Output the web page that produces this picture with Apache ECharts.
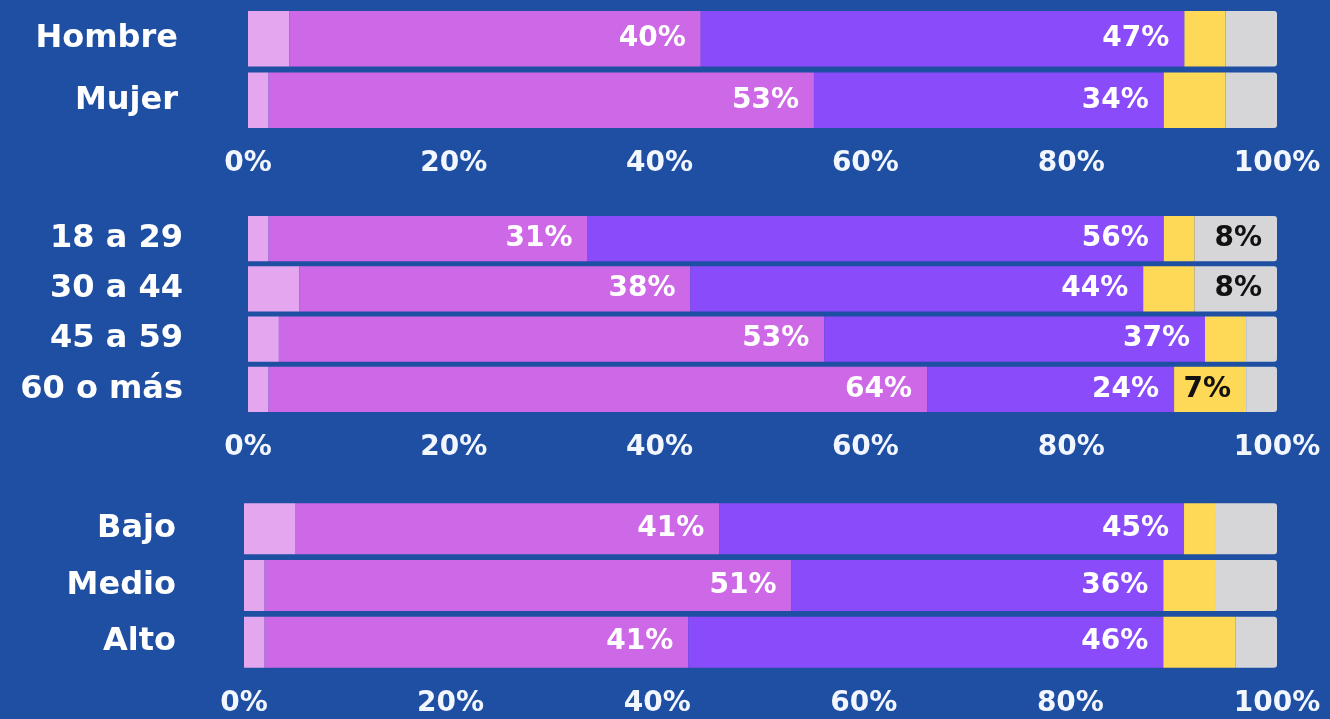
<!DOCTYPE html>
<html>
<head>
<meta charset="utf-8">
<script src="https://cdn.jsdelivr.net/npm/echarts@6/dist/echarts.min.js"></script>
<style>
html,body{margin:0;padding:0;background:#1f4fa3;}
#c{width:1330px;height:719px;}
</style>
</head>
<body>
<div id="c"></div>
<script>
// ---- data ----
const sexCats = ['Hombre', 'Mujer'];
const sexLight = [4, 2];
const sexPink = [40, 53];
const sexPurple = [47, 34];
const sexYellow = [4, 6];
const sexGrey = [5, 5];

const ageCats = ['18 a 29', '30 a 44', '45 a 59', '60 o más'];
const ageLight = [2, 5, 3, 2];
const agePink = [31, 38, 53, 64];
const agePurple = [56, 44, 37, 24];
const ageYellow = [3, 5, 4, 7];
const ageGrey = [8, 8, 3, 3];

const incCats = ['Bajo', 'Medio', 'Alto'];
const incLight = [5, 2, 2];
const incPink = [41, 51, 41];
const incPurple = [45, 36, 46];
const incYellow = [3, 5, 7];
const incGrey = [6, 6, 4];

// which small segments carry a value label
const ageYellowLabeled = [false, false, false, true];
const ageGreyLabeled = [true, true, false, false];

const xTicks = [0, 20, 40, 60, 80, 100];

// ---- styles ----
const FONT = 'DejaVu Sans';
const C = {
  light: '#e4a6ee', pink: '#cd68e6', purple: '#8a4bfa',
  yellow: '#fed957', grey: '#d6d6d8'
};

const whiteLabel = {
  show: true, position: 'insideRight', distance: 15,
  color: '#ffffff', fontFamily: FONT, fontWeight: 'bold', fontSize: 28,
  formatter: p => p.value + '%'
};
const blackLabel = Object.assign({}, whiteLabel, { color: '#111111' });

function withFlags(vals, flags) {
  if (!flags) return vals;
  return vals.map((v, i) => ({ value: v, label: flags[i] ? blackLabel : { show: false } }));
}

function panel(idx, light, pink, purple, yellow, grey, yFlags, gFlags) {
  const stack = 'p' + idx;
  const base = { type: 'bar', stack, xAxisIndex: idx, yAxisIndex: idx, barCategoryGap: '10%', silent: true };
  return [
    Object.assign({}, base, { name: 'light', data: light, itemStyle: { color: C.light } }),
    Object.assign({}, base, { name: 'pink', data: pink, itemStyle: { color: C.pink }, label: whiteLabel }),
    Object.assign({}, base, { name: 'purple', data: purple, itemStyle: { color: C.purple }, label: whiteLabel }),
    Object.assign({}, base, { name: 'yellow', data: withFlags(yellow, yFlags), itemStyle: { color: C.yellow } }),
    Object.assign({}, base, { name: 'grey', data: withFlags(grey, gFlags), itemStyle: { color: C.grey, borderRadius: [0, 3, 3, 0] } })
  ];
}

function xAxis(idx) {
  return {
    type: 'value', gridIndex: idx, min: xTicks[0], max: xTicks[xTicks.length - 1], interval: 20,
    axisLine: { show: false }, axisTick: { show: false }, splitLine: { show: false },
    axisLabel: {
      color: '#f2f6ff', fontFamily: FONT, fontWeight: 'bold', fontSize: 28, margin: 19,
      formatter: v => v + '%'
    }
  };
}
function yAxis(idx, cats, margin) {
  return {
    type: 'category', gridIndex: idx, data: cats, inverse: true,
    axisLine: { show: false }, axisTick: { show: false }, splitLine: { show: false },
    axisLabel: { color: '#ffffff', fontFamily: FONT, fontWeight: 'bold', fontSize: 32, margin }
  };
}

const chart = echarts.init(document.getElementById('c'), null, { renderer: 'canvas' });
chart.setOption({
  backgroundColor: '#1f4fa3',
  animation: false,
  grid: [
    { left: 248, right: 53, top: 8, height: 123 },
    { left: 248, right: 53, top: 213.5, height: 201 },
    { left: 244, right: 53, top: 500.5, height: 170 }
  ],
  xAxis: [xAxis(0), xAxis(1), xAxis(2)],
  yAxis: [yAxis(0, sexCats, 70), yAxis(1, ageCats, 65), yAxis(2, incCats, 68)],
  series: [].concat(
    panel(0, sexLight, sexPink, sexPurple, sexYellow, sexGrey),
    panel(1, ageLight, agePink, agePurple, ageYellow, ageGrey, ageYellowLabeled, ageGreyLabeled),
    panel(2, incLight, incPink, incPurple, incYellow, incGrey)
  )
});
</script>
</body>
</html>
